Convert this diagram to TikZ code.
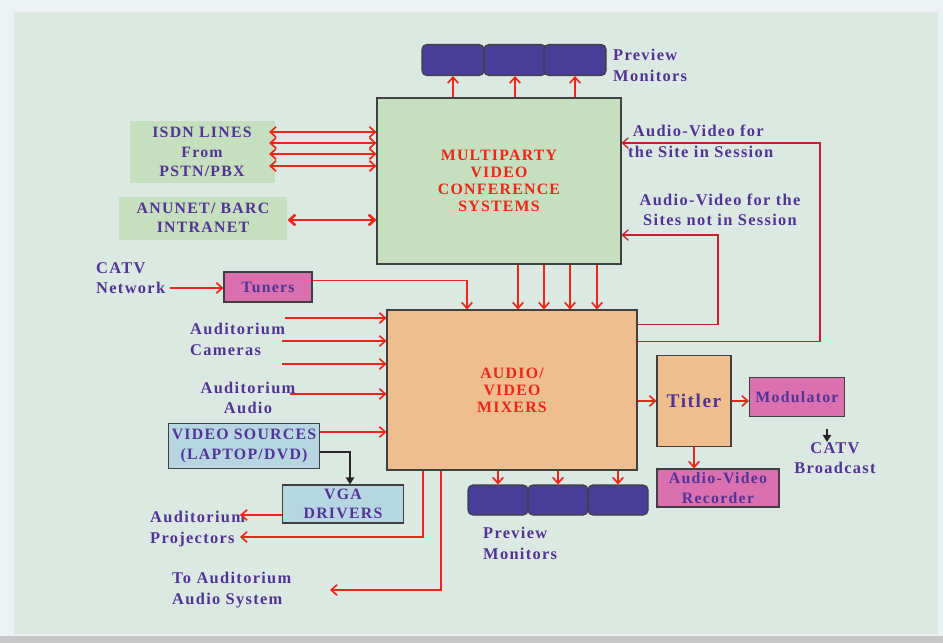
\documentclass[tikz,border=0pt]{standalone}
\usepackage{fontspec}
\setmainfont{Liberation Serif}[LetterSpace=8]
\usetikzlibrary{arrows.meta,calc}
\definecolor{panel}{RGB}{220,232,226}
\definecolor{rim}{RGB}{236,241,243}
\definecolor{mcugreen}{RGB}{198,223,190}
\definecolor{tanbox}{RGB}{238,190,142}
\definecolor{pinkbox}{RGB}{218,112,176}
\definecolor{skybox}{RGB}{182,215,226}
\definecolor{monblue}{RGB}{72,62,152}
\definecolor{inkblue}{RGB}{82,52,150}
\definecolor{sigred}{RGB}{240,36,24}
\definecolor{loopred}{RGB}{192,34,44}

\begin{document}
\begin{tikzpicture}[x=0.03cm,y=-0.03cm,
  sz/.style 2 args={minimum width=#1*0.03cm,minimum height=#2*0.03cm},
  box/.style={rectangle,draw=black!75,line width=0.9pt,inner sep=0pt,align=center,
    font=\bfseries\fontsize{13.5}{16.5}\selectfont,text=inkblue},
  bigbox/.style={box,font=\bfseries\fontsize{13.5}{14.5}\selectfont,text=sigred},
  mon/.style={rectangle,rounded corners=4pt,draw=black!75,line width=0.9pt,fill=monblue},
  lbl/.style={inner sep=0pt,align=left,font=\bfseries\fontsize{14}{17.5}\selectfont,text=inkblue},
  arr/.style={-{Straight Barb[length=5pt,width=9pt]},sigred,line width=1.4pt},
  darr/.style={{Straight Barb[length=5pt,width=9pt]}-{Straight Barb[length=5pt,width=9pt]},sigred,line width=1.4pt},
  loopline/.style={-{Straight Barb[length=5pt,width=9pt]},loopred,line width=1.1pt},
  blk/.style={-{Triangle[length=6pt,width=7pt]},black!85,line width=1.5pt}
]
\useasboundingbox (0,0) rectangle (943,643);
% backdrop
\fill[rim] (0,0) rectangle (943,643);
\fill[panel] (14,12) rectangle (938,634);
\fill[black!22] (0,636) rectangle (943,643);

% main blocks
\node[bigbox,sz={244}{166},fill=mcugreen] (mcu) at (499,181)
  {MULTIPARTY\\VIDEO\\CONFERENCE\\SYSTEMS};
\node[bigbox,sz={250}{160},fill=tanbox] (mix) at (512,390)
  {AUDIO/\\VIDEO\\MIXERS};

% sources
\node[box,sz={145}{62},draw=none,fill=mcugreen] (isdn) at (202,152) {ISDN LINES\\From\\PSTN/PBX};
\node[box,sz={168}{43},draw=none,fill=mcugreen] (anu) at (203,218) {ANUNET/ BARC\\INTRANET};
\node[box,sz={88}{30},fill=pinkbox] (tun) at (268,287) {Tuners};
\node[box,sz={151}{45},fill=skybox] (vid) at (244,446) {VIDEO SOURCES\\(LAPTOP/DVD)};
\node[box,sz={121}{38},fill=skybox] (vga) at (343,504) {VGA\\DRIVERS};

% outputs
\node[box,sz={74}{91},fill=tanbox,font=\bfseries\fontsize{16.5}{18}\selectfont] (tit) at (694,401) {Titler};
\node[box,sz={95}{39},fill=pinkbox] (mod) at (797,397) {Modulator};
\node[box,sz={122}{38},fill=pinkbox] (rec) at (718,488) {Audio-Video\\Recorder};

% preview monitors
\node[mon,sz={62}{31}] (tm1) at (453,60) {};
\node[mon,sz={62}{31}] (tm2) at (515,60) {};
\node[mon,sz={62}{31}] (tm3) at (575,60) {};
\node[mon,sz={60}{30}] (bm1) at (498,500) {};
\node[mon,sz={60}{30}] (bm2) at (558,500) {};
\node[mon,sz={60}{30}] (bm3) at (618,500) {};

% labels
\node[lbl,anchor=north west] (prevtop) at (613,49) {Preview\\Monitors};
\node[lbl,anchor=north west] (avin) at (628,125) {\hspace{4pt}Audio-Video for\\the Site in Session};
\node[lbl,align=center] (avout) at (720,210) {Audio-Video for the\\Sites not in Session};
\node[lbl,anchor=north west] (catvin) at (96,262) {CATV\\Network};
\node[lbl,anchor=north west] (cams) at (190,323) {Auditorium\\Cameras};
\node[lbl,align=center] (aud) at (248,398) {Auditorium\\Audio};
\node[lbl,anchor=north west] (proj) at (150,511) {Auditorium\\Projectors};
\node[lbl,anchor=north west] (audsys) at (172,572) {To Auditorium\\Audio System};
\node[lbl,anchor=north west] (prevbot) at (483,527) {Preview\\Monitors};
\node[lbl,align=center] (bcast) at (835,458) {CATV\\Broadcast};

\coordinate (c1) at (285,318);
\coordinate (c2) at (282,341);
\coordinate (c3) at (282,364);
\coordinate (a1) at (290,394);
\coordinate (v1) at (320,432);
\coordinate (n1) at (170,288);
\coordinate (pj1) at (240,515);
\coordinate (pj2) at (240,537);
\coordinate (as1) at (330,590);
\coordinate (bc) at (827,429);

% MCU links
\foreach \m in {tm1,tm2,tm3}
  \draw[arr] (\m |- mcu.north) -- (\m.south);
\foreach \yy in {132,143,154,166}
  \draw[darr] ([xshift=-6*0.03cm]isdn.east |- 0,\yy) -- (mcu.west |- 0,\yy);
\draw[darr,line width=2.2pt] (anu.east |- 0,220) -- (mcu.west |- 0,220);
\foreach \xx in {518,544,570,597}
  \draw[arr] (mcu.south -| \xx,0) -- (mix.north -| \xx,0);
\draw[loopline] ($(mix.north east)+(0,15)$) -| (718,235) -- (mcu.east |- 0,235);
\draw[loopline] ($(mix.north east)+(0,32)$) -| (820,143) -- (mcu.east |- 0,143);

% mixer inputs
\draw[arr] (n1) -- (tun.west |- n1);
\draw[arr] ($(tun.north east)+(0,9)$) -| (mix.north -| 467,0);
\foreach \c in {c1,c2,c3,a1,v1}
  \draw[arr] (\c) -- (mix.west |- \c);
\draw[blk] ($(vid.south east)+(0,-17)$) -| (vga.north -| 350,0);

% mixer outputs
\draw[arr] (vga.west |- pj1) -- (pj1);
\draw[arr] (mix.south -| 423,0) |- (pj2);
\draw[arr] (mix.south -| 441,0) |- (as1);
\foreach \m in {bm1,bm2,bm3}
  \draw[arr] (\m |- mix.south) -- (\m.north);
\draw[arr] (mix.east |- tit.west) -- (tit.west);
\draw[arr] (tit.east) -- (mod.west |- tit.east);
\draw[arr] (tit.south) -- (rec.north -| tit.south);
\draw[blk] (bc) -- (bc |- bcast.north);
\end{tikzpicture}
\end{document}
